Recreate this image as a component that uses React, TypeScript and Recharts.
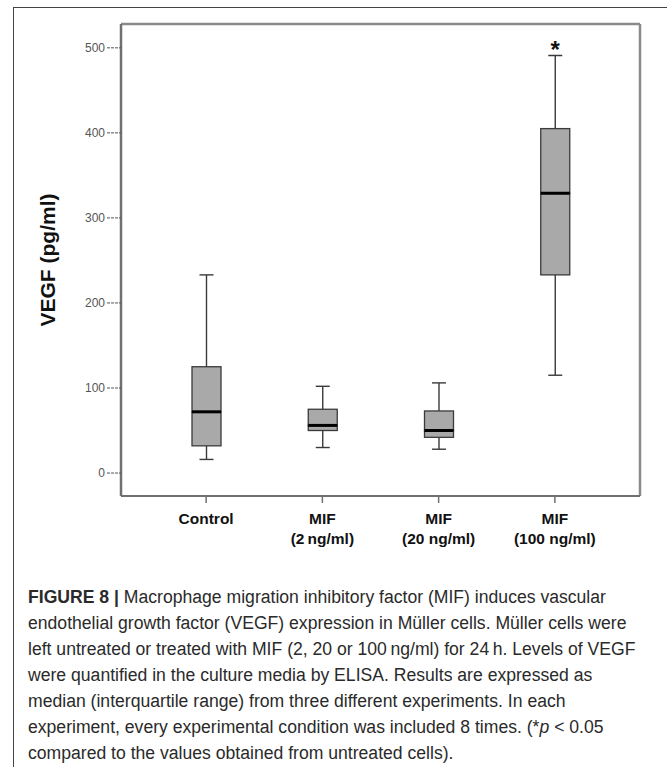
import React from 'react';
import { BarChart, Bar, XAxis, YAxis, Label, CartesianGrid } from 'recharts';

// values (pg/ml)
const categories = ['Control', 'MIF (2 ng/ml)', 'MIF (20 ng/ml)', 'MIF (100 ng/ml)'];
const tickLines = [['Control'], ['MIF', '(2\u2009ng/ml)'], ['MIF', '(20 ng/ml)'], ['MIF', '(100 ng/ml)']];
const mins = [16, 30, 28, 115];
const q1s = [32, 50, 42, 233];
const medians = [72, 56, 50, 329];
const q3s = [125, 75, 73, 405];
const maxs = [233, 102, 106, 491];
const marks = ['', '', '', '*'];
const yTicks = [0, 100, 200, 300, 400, 500];

const FONT = "Arial, 'Liberation Sans', Helvetica, sans-serif";
const BOX_FILL = '#a9a9a9';
const BOX_STROKE = '#3a3a3a';
const FRAME = '#707070';

// stacked segments: base (hidden) -> lower whisker -> lower box -> upper box -> upper whisker
const rows = categories.map((name, i) => ({
  name,
  base: mins[i],
  lowWhisker: q1s[i] - mins[i],
  lowBox: medians[i] - q1s[i],
  highBox: q3s[i] - medians[i],
  highWhisker: maxs[i] - q3s[i],
  mark: marks[i],
}));

const Hidden = () => null;

const LowWhisker = (props: any) => {
  const { x, y, width, height } = props;
  const cx = x + width / 2;
  return (
    <g stroke={BOX_STROKE} strokeWidth={1.4}>
      <line x1={cx} x2={cx} y1={y} y2={y + height} />
      <line x1={cx - 7} x2={cx + 7} y1={y + height} y2={y + height} />
    </g>
  );
};

const HighWhisker = (props: any) => {
  const { x, y, width, height, payload } = props;
  const cx = x + width / 2;
  return (
    <g>
      <g stroke={BOX_STROKE} strokeWidth={1.4}>
        <line x1={cx} x2={cx} y1={y} y2={y + height} />
        <line x1={cx - 7} x2={cx + 7} y1={y} y2={y} />
      </g>
      {payload && payload.mark ? (
        <text x={cx} y={y + 3} textAnchor="middle" fontSize={24} fontWeight="bold" fontFamily={FONT} fill="#111">
          {payload.mark}
        </text>
      ) : null}
    </g>
  );
};

const LowBox = (props: any) => {
  const { x, y, width, height } = props;
  return <rect x={x} y={y} width={width} height={height} fill={BOX_FILL} stroke={BOX_STROKE} strokeWidth={1.3} />;
};

const HighBox = (props: any) => {
  const { x, y, width, height } = props;
  return (
    <g>
      <rect x={x} y={y} width={width} height={height} fill={BOX_FILL} stroke={BOX_STROKE} strokeWidth={1.3} />
      <line x1={x} x2={x + width} y1={y + height} y2={y + height} stroke="#000" strokeWidth={3} />
    </g>
  );
};

const CategoryTick = (props: any) => {
  const { x, y, payload } = props;
  const lines = tickLines[payload.index] || [payload.value];
  return (
    <text x={x} y={y} textAnchor="middle" fontSize={15.5} fontWeight="bold" fontFamily={FONT} fill="#111">
      {lines.map((l, i) => (
        <tspan key={i} x={x} dy={i === 0 ? 19 : 20}>
          {l}
        </tspan>
      ))}
    </text>
  );
};

const renderYLabel = (props: any) => {
  const vb = props.viewBox || {};
  const cy = vb.y + vb.height / 2;
  return (
    <text
      x={55}
      y={cy}
      transform={`rotate(-90, 55, ${cy})`}
      textAnchor="middle"
      fontSize={21}
      fontWeight="bold"
      fontFamily={FONT}
      fill="#111"
    >
      VEGF (pg/ml)
    </text>
  );
};

// top and right edges of the plot frame
const topEdge = ({ offset }: any) => [offset.top];
const rightEdge = ({ offset }: any) => [offset.left + offset.width];

const captionLines: React.ReactNode[] = [
  <>
    <b>FIGURE 8 |</b> Macrophage migration inhibitory factor (MIF) induces vascular
  </>,
  'endothelial growth factor (VEGF) expression in Müller cells. Müller cells were',
  'left untreated or treated with MIF (2, 20 or 100\u2009ng/ml) for 24\u2009h. Levels of VEGF',
  'were quantified in the culture media by ELISA. Results are expressed as',
  'median (interquartile range) from three different experiments. In each',
  <>
    experiment, every experimental condition was included 8 times. (*<i>p</i> &lt; 0.05
  </>,
  'compared to the values obtained from untreated cells).',
];

export default function App() {
  return (
    <div style={{ position: 'absolute', left: 0, top: 0, width: 667, height: 767, background: '#fff', overflow: 'hidden' }}>
      <div
        style={{
          position: 'absolute',
          left: 13,
          top: 7,
          width: 667,
          height: 780,
          borderTop: '1.5px solid #444',
          borderLeft: '1.5px solid #444',
        }}
      />
      <div style={{ position: 'absolute', left: 0, top: 0 }}>
        <BarChart
          width={667}
          height={560}
          data={rows}
          barSize={29}
          margin={{ top: 24, right: 27, left: 0, bottom: 4 }}
        >
          <CartesianGrid
            stroke="#8a8a8a"
            strokeWidth={2.5}
            horizontalCoordinatesGenerator={topEdge}
            verticalCoordinatesGenerator={rightEdge}
          />
          <XAxis
            dataKey="name"
            height={60}
            padding={{ left: 27, right: 27 }}
            tickSize={7}
            tickMargin={2}
            tick={<CategoryTick />}
            axisLine={{ stroke: FRAME, strokeWidth: 2 }}
            tickLine={{ stroke: FRAME, strokeWidth: 1.5 }}
            interval={0}
          />
          <YAxis
            width={121}
            domain={[-27, 528]}
            ticks={yTicks}
            allowDataOverflow
            tickSize={14}
            tickMargin={2}
            tick={{ fontSize: 12, fill: '#555', fontFamily: FONT }}
            axisLine={{ stroke: FRAME, strokeWidth: 2.5 }}
            tickLine={{ stroke: '#555', strokeWidth: 1, strokeDasharray: '3 1' }}
          >
            <Label content={renderYLabel} />
          </YAxis>
          <Bar dataKey="base" stackId="box" shape={<Hidden />} isAnimationActive={false} />
          <Bar dataKey="lowWhisker" stackId="box" shape={<LowWhisker />} isAnimationActive={false} />
          <Bar dataKey="lowBox" stackId="box" shape={<LowBox />} isAnimationActive={false} />
          <Bar dataKey="highBox" stackId="box" shape={<HighBox />} isAnimationActive={false} />
          <Bar dataKey="highWhisker" stackId="box" shape={<HighWhisker />} isAnimationActive={false} />
        </BarChart>
      </div>
      <div
        style={{
          position: 'absolute',
          left: 28,
          top: 584,
          fontFamily: FONT,
          fontSize: 17.6,
          lineHeight: '26px',
          color: '#2a2a2a',
          whiteSpace: 'nowrap',
        }}
      >
        {captionLines.map((line, i) => (
          <div key={i}>{line}</div>
        ))}
      </div>
    </div>
  );
}
